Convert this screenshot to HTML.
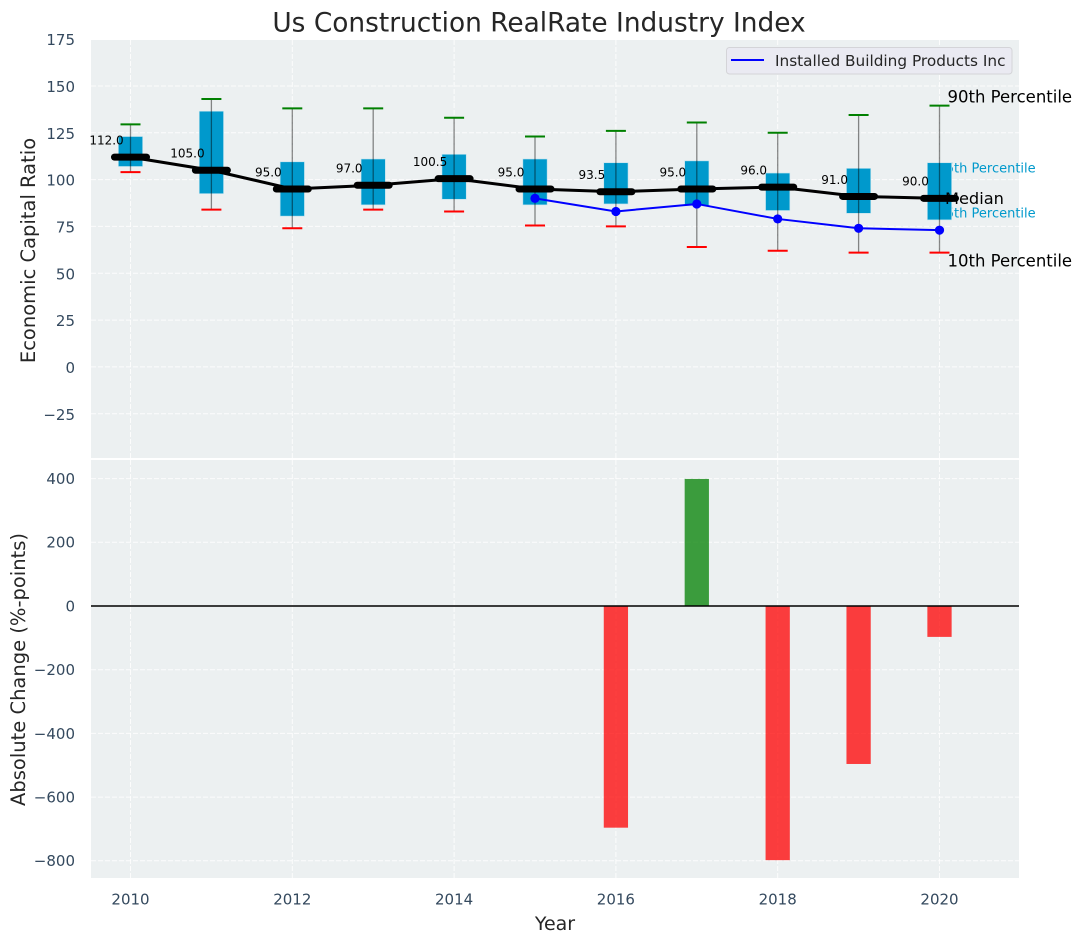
<!DOCTYPE html>
<html>
<head>
<meta charset="utf-8">
<title>Us Construction RealRate Industry Index</title>
<style>
html,body{margin:0;padding:0;background:#fff;}
svg{display:block;font-family:"DejaVu Sans","Liberation Sans",sans-serif;}
</style>
</head>
<body>
<svg id="chart" xmlns="http://www.w3.org/2000/svg" width="1082" height="942" viewBox="0 0 1082 942"></svg>
<script>
const years = [2010, 2011, 2012, 2013, 2014, 2015, 2016, 2017, 2018, 2019, 2020];
const medians = [112, 105, 95, 97, 100.5, 95, 93.5, 95, 96, 91, 90];
const medianLabels = ["112.0", "105.0", "95.0", "97.0", "100.5", "95.0", "93.5", "95.0", "96.0", "91.0", "90.0"];
const p90 = [129.5, 143, 138, 138, 133, 123, 126, 130.5, 125, 134.5, 139.5];
const p75 = [123, 136.5, 109.5, 111, 113.5, 111, 109, 110, 103.5, 106, 109];
const p25 = [107, 92.5, 80.5, 86.5, 89.5, 86.5, 87, 86, 83.5, 82, 78.5];
const p10 = [104, 84, 74, 84, 83, 75.5, 75, 64, 62, 61, 61];
const companyYears = [2015, 2016, 2017, 2018, 2019, 2020];
const companyValues = [90, 83, 87, 79, 74, 73];
const changeYears = [2016, 2017, 2018, 2019, 2020];
const changeValues = [-696, 399, -798, -496, -97];
const topTicks = [-25, 0, 25, 50, 75, 100, 125, 150, 175];
const bottomTicks = [-800, -600, -400, -200, 0, 200, 400];
const xTicks = [2010, 2012, 2014, 2016, 2018, 2020];

const svg = document.getElementById('chart');
const NS = 'http://www.w3.org/2000/svg';
const PL = 91, PR = 1019, TT = 40, TB = 458, BT = 460, BB = 878;
const xS = v => 130.5 + (v - 2010) * 80.9;
const yT = v => 366.9 - v * 1.873;
const yB = v => 606 - v * 0.3185;
const yrW = 80.9;
const tickCol = '#34495e', txtCol = '#262626';

function mk(tag, attrs, text) {
  const e = document.createElementNS(NS, tag);
  for (const k in attrs) e.setAttribute(k, attrs[k]);
  if (text !== undefined) e.textContent = text;
  svg.appendChild(e);
  return e;
}
function label(x, y, str, size, fill, anchor) {
  return mk('text', {x: x, y: y + size * 0.36, 'font-size': size, fill: fill, 'text-anchor': anchor || 'middle'}, str);
}
function gridLine(x1, y1, x2, y2) {
  return mk('line', {x1: x1, y1: y1, x2: x2, y2: y2, stroke: '#fff', 'stroke-width': 1, 'stroke-dasharray': '5 2', opacity: 0.85});
}
let el;

el = mk('rect', {x: PL, y: TT, width: PR - PL, height: TB - TT, fill: '#ecf0f1'});


el = mk('rect', {x: PL, y: BT, width: PR - PL, height: BB - BT, fill: '#ecf0f1'});



topTicks.forEach(t => {
  el = gridLine(PL, yT(t), PR, yT(t));
  
  
  el = label(75, yT(t) + 0.7, String(t).replace('-', '\u2212'), 15, tickCol, 'end');
  
  
});
bottomTicks.forEach(t => {
  el = gridLine(PL, yB(t), PR, yB(t));
  
  
  el = label(75, yB(t), String(t).replace('-', '\u2212'), 15, tickCol, 'end');
  
  
});
xTicks.forEach(t => {
  el = gridLine(xS(t), TT, xS(t), TB);
  
  
  el = gridLine(xS(t), BT, xS(t), BB);
  
  
  el = label(xS(t), 899, String(t), 15, tickCol);
  
  
});

const lastI = years.length - 1;
const lastX = xS(years[lastI]);
el = label(lastX - 2, yT(p75[lastI]) + 5, '75th Percentile', 13, '#0099cc', 'start');


el = label(lastX - 2, yT(p25[lastI]) - 7, '25th Percentile', 13, '#0099cc', 'start');



years.forEach((yr, i) => {
  const cx = xS(yr);
  el = mk('rect', {x: cx - 0.15 * yrW, y: yT(p75[i]), width: 0.3 * yrW, height: yT(p25[i]) - yT(p75[i]), fill: '#0099cc', stroke: '#bfe3ee', 'stroke-width': 0.6});
  
  
});

el = mk('polyline', {points: years.map((yr, i) => xS(yr) + ',' + yT(medians[i])).join(' '), fill: 'none', stroke: '#000', 'stroke-width': 3});



years.forEach((yr, i) => {
  const cx = xS(yr);
  el = mk('line', {x1: cx - 16, y1: yT(medians[i]), x2: cx + 16, y2: yT(medians[i]), stroke: '#000', 'stroke-width': 7, 'stroke-linecap': 'round'});
  
  
  el = mk('line', {x1: cx, y1: yT(p10[i]), x2: cx, y2: yT(p90[i]), stroke: '#000', 'stroke-width': 1.3, opacity: 0.45});
  
  
  el = mk('line', {x1: cx - 10, y1: yT(p90[i]), x2: cx + 10, y2: yT(p90[i]), stroke: '#008000', 'stroke-width': 2});
  
  
  el = mk('line', {x1: cx - 10, y1: yT(p10[i]), x2: cx + 10, y2: yT(p10[i]), stroke: '#ff0000', 'stroke-width': 2});
  
  
  el = label(cx - 24, yT(medians[i]) - 17, medianLabels[i], 12, '#000');
  
  
});

el = mk('polyline', {points: companyYears.map((yr, i) => xS(yr) + ',' + yT(companyValues[i])).join(' '), fill: 'none', stroke: '#0000ff', 'stroke-width': 2});


companyYears.forEach((yr, i) => {
  el = mk('circle', {cx: xS(yr), cy: yT(companyValues[i]), r: 4.6, fill: '#0000ff'});
  
  
});

el = label(lastX + 8, yT(p90[lastI]) - 9, '90th Percentile', 16.5, '#000', 'start');


el = label(lastX + 5.5, yT(medians[lastI]), 'Median', 16.2, '#000', 'start');


el = label(lastX + 8, yT(p10[lastI]) + 8, '10th Percentile', 16.5, '#000', 'start');



changeYears.forEach((yr, i) => {
  const v = changeValues[i];
  const top = Math.min(yB(v), yB(0));
  const h = Math.abs(yB(v) - yB(0));
  el = mk('rect', {x: xS(yr) - 0.15 * yrW, y: top, width: 0.3 * yrW, height: h, fill: v >= 0 ? '#008000' : '#ff0000', opacity: 0.75});
  
  
});
el = mk('line', {x1: PL, y1: yB(0), x2: PR, y2: yB(0), stroke: '#000', 'stroke-width': 1.5});



el = mk('rect', {x: 726.5, y: 47.5, width: 285.5, height: 26.5, rx: 3, ry: 3, fill: '#eaeaf2', stroke: '#d4d4d8', 'stroke-width': 1});


el = mk('line', {x1: 731, y1: 60, x2: 764, y2: 60, stroke: '#0000ff', 'stroke-width': 2});


el = label(775, 60.5, 'Installed Building Products Inc', 15.3, txtCol, 'start');



el = label(539, 22, 'Us Construction RealRate Industry Index', 26.4, txtCol);


el = label(555, 923, 'Year', 19, txtCol);



el = mk('text', {transform: 'translate(35,250.5) rotate(-90)', 'font-size': 19.5, fill: txtCol, 'text-anchor': 'middle'}, 'Economic Capital Ratio');


el = mk('text', {transform: 'translate(25,669.5) rotate(-90)', 'font-size': 19.5, fill: txtCol, 'text-anchor': 'middle'}, 'Absolute Change (%-points)');


</script>
</body>
</html>
